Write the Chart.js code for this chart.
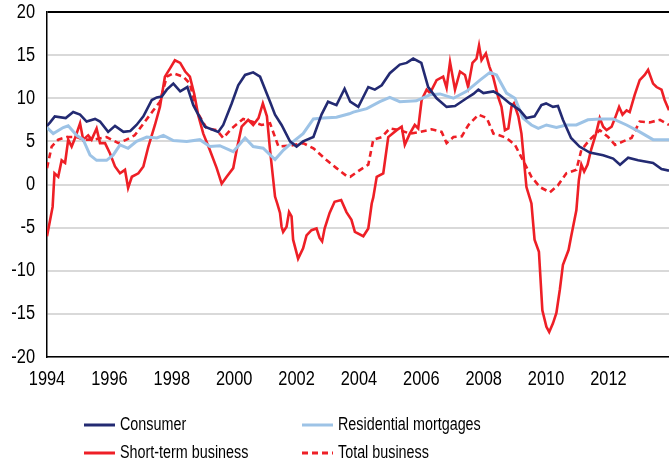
<!DOCTYPE html>
<html>
<head>
<meta charset="utf-8">
<script src="https://cdn.jsdelivr.net/npm/chart.js@4.4.1/dist/chart.umd.min.js"></script>
<style>
  html, body { margin: 0; padding: 0; background: #fff; }
  #wrap { width: 669px; height: 471px; position: relative; }
</style>
</head>
<body>
<div id="wrap"><canvas id="growth"></canvas></div>
<script>
// values (decimal year, % change)
const consumerYears = [1994.00, 1994.10, 1994.25, 1994.60, 1994.84, 1995.06, 1995.27, 1995.54, 1995.70, 1995.96, 1996.18, 1996.45, 1996.67, 1996.87, 1997.09, 1997.36, 1997.52, 1997.68, 1997.84, 1998.05, 1998.27, 1998.50, 1998.69, 1998.88, 1999.06, 1999.49, 1999.65, 1999.92, 2000.13, 2000.35, 2000.61, 2000.83, 2001.15, 2001.31, 2001.52, 2001.79, 2002.00, 2002.21, 2002.54, 2002.80, 2003.01, 2003.28, 2003.54, 2003.72, 2003.98, 2004.30, 2004.51, 2004.73, 2004.99, 2005.31, 2005.53, 2005.74, 2006.00, 2006.22, 2006.49, 2006.81, 2007.08, 2007.45, 2007.67, 2007.83, 2007.99, 2008.31, 2008.50, 2008.84, 2009.16, 2009.37, 2009.63, 2009.85, 2010.00, 2010.22, 2010.38, 2010.54, 2010.80, 2011.07, 2011.40, 2011.83, 2012.15, 2012.37, 2012.63, 2012.95, 2013.43, 2013.70, 2013.94];
const consumerValues = [6.8, 7.2, 7.9, 7.7, 8.4, 8.1, 7.3, 7.6, 7.3, 6.1, 6.8, 6.1, 6.2, 6.9, 7.9, 9.8, 10.1, 10.2, 11.0, 11.7, 10.8, 11.3, 9.2, 7.9, 6.7, 6.1, 6.9, 9.4, 11.5, 12.7, 13.0, 12.5, 9.6, 8.1, 6.9, 5.0, 4.4, 5.0, 5.5, 8.1, 9.6, 9.2, 11.1, 9.6, 9.0, 11.3, 11.0, 11.5, 12.9, 13.9, 14.1, 14.6, 14.1, 11.3, 10.0, 9.0, 9.1, 10.0, 10.5, 11.0, 10.6, 10.8, 10.4, 9.4, 8.6, 7.7, 7.9, 9.2, 9.4, 9.0, 9.1, 7.5, 5.4, 4.4, 3.7, 3.4, 3.0, 2.3, 3.1, 2.8, 2.5, 1.8, 1.6];

const mortgageYears = [1994.00, 1994.20, 1994.52, 1994.68, 1994.95, 1995.16, 1995.38, 1995.59, 1995.91, 1996.12, 1996.34, 1996.60, 1996.87, 1997.20, 1997.52, 1997.73, 1998.05, 1998.48, 1998.90, 1999.22, 1999.54, 1999.97, 2000.35, 2000.61, 2000.93, 2001.31, 2001.58, 2001.90, 2002.21, 2002.54, 2002.86, 2003.28, 2003.69, 2003.82, 2004.25, 2004.67, 2004.99, 2005.31, 2005.84, 2006.28, 2006.60, 2007.03, 2007.45, 2007.88, 2008.20, 2008.41, 2008.73, 2009.00, 2009.26, 2009.53, 2009.75, 2010.01, 2010.33, 2010.65, 2010.97, 2011.34, 2011.72, 2012.15, 2012.58, 2013.00, 2013.43, 2013.94];
const mortgageValues = [6.6, 5.9, 6.6, 6.8, 5.7, 5.2, 3.4, 2.8, 2.8, 3.4, 4.6, 4.2, 5.0, 5.5, 5.4, 5.7, 5.1, 5.0, 5.2, 4.4, 4.5, 3.8, 5.4, 4.4, 4.2, 2.9, 4.0, 5.0, 5.9, 7.6, 7.7, 7.8, 8.2, 8.4, 8.8, 9.6, 10.1, 9.6, 9.7, 10.4, 10.5, 10.0, 10.8, 12.1, 13.0, 12.7, 10.6, 10.0, 7.7, 6.9, 6.5, 6.9, 6.6, 6.9, 6.9, 7.5, 7.6, 7.6, 6.9, 6.1, 5.2, 5.2];

const shortTermYears = [1994.00, 1994.18, 1994.24, 1994.36, 1994.47, 1994.58, 1994.68, 1994.79, 1994.90, 1995.06, 1995.16, 1995.32, 1995.43, 1995.59, 1995.70, 1995.86, 1996.02, 1996.18, 1996.34, 1996.50, 1996.60, 1996.72, 1996.93, 1997.09, 1997.25, 1997.46, 1997.62, 1997.78, 1997.95, 1998.10, 1998.27, 1998.43, 1998.58, 1998.72, 1998.85, 1999.01, 1999.22, 1999.44, 1999.60, 1999.76, 1999.97, 2000.08, 2000.24, 2000.45, 2000.61, 2000.78, 2000.92, 2001.05, 2001.15, 2001.31, 2001.38, 2001.47, 2001.52, 2001.57, 2001.68, 2001.76, 2001.84, 2001.89, 2002.05, 2002.21, 2002.32, 2002.48, 2002.64, 2002.74, 2002.82, 2002.90, 2003.06, 2003.22, 2003.43, 2003.60, 2003.76, 2003.87, 2004.14, 2004.30, 2004.41, 2004.46, 2004.57, 2004.78, 2004.94, 2005.21, 2005.37, 2005.47, 2005.63, 2005.79, 2005.90, 2006.01, 2006.17, 2006.28, 2006.49, 2006.70, 2006.81, 2006.92, 2007.08, 2007.24, 2007.40, 2007.50, 2007.64, 2007.77, 2007.85, 2007.93, 2008.07, 2008.18, 2008.30, 2008.46, 2008.57, 2008.68, 2008.79, 2008.89, 2008.97, 2009.11, 2009.21, 2009.37, 2009.53, 2009.63, 2009.77, 2009.88, 2010.01, 2010.10, 2010.22, 2010.33, 2010.44, 2010.54, 2010.72, 2010.80, 2010.97, 2011.05, 2011.13, 2011.22, 2011.33, 2011.44, 2011.60, 2011.72, 2011.83, 2011.94, 2012.10, 2012.21, 2012.34, 2012.45, 2012.58, 2012.68, 2012.84, 2013.00, 2013.16, 2013.27, 2013.43, 2013.54, 2013.70, 2013.80, 2013.94];
const shortTermValues = [-6.0, -2.6, 1.3, 0.9, 2.8, 2.5, 5.2, 4.4, 5.4, 7.1, 5.2, 5.7, 5.2, 6.5, 4.8, 4.8, 3.6, 2.1, 1.3, 1.7, -0.4, 0.9, 1.3, 2.1, 4.4, 6.9, 9.0, 12.5, 13.5, 14.4, 14.1, 13.1, 12.5, 10.5, 8.0, 5.9, 4.0, 1.9, 0.1, 0.9, 1.9, 4.0, 6.7, 7.5, 6.9, 7.7, 9.4, 7.9, 4.0, -1.4, -2.2, -3.3, -4.9, -5.5, -4.9, -3.2, -3.7, -6.4, -8.6, -7.4, -5.9, -5.3, -5.1, -6.2, -6.6, -5.1, -3.3, -2.0, -1.8, -3.2, -4.1, -5.5, -6.0, -5.1, -2.2, -1.5, 0.9, 1.3, 5.5, 6.3, 6.7, 4.6, 5.9, 6.9, 6.5, 9.8, 11.0, 10.6, 12.1, 12.5, 11.2, 14.2, 11.0, 13.1, 12.7, 11.3, 14.1, 14.6, 16.1, 14.4, 15.2, 13.7, 12.5, 10.2, 9.0, 6.3, 6.5, 9.0, 9.4, 7.9, 5.9, -0.3, -2.2, -6.4, -7.8, -14.6, -16.5, -17.1, -16.1, -14.9, -12.2, -9.3, -7.6, -6.1, -3.0, 0.5, 2.3, 1.5, 2.3, 4.0, 5.9, 7.7, 6.7, 6.3, 6.7, 7.7, 9.0, 8.1, 8.6, 8.4, 10.4, 12.1, 12.7, 13.3, 11.7, 11.3, 11.0, 9.8, 8.6];

const totalYears = [1994.00, 1994.15, 1994.36, 1994.63, 1994.95, 1995.16, 1995.48, 1995.91, 1996.29, 1996.55, 1996.81, 1997.14, 1997.41, 1997.62, 1997.84, 1998.05, 1998.37, 1998.58, 1998.80, 1999.12, 1999.44, 1999.65, 1999.92, 2000.29, 2000.56, 2000.88, 2001.15, 2001.42, 2001.79, 2002.21, 2002.54, 2002.97, 2003.28, 2003.60, 2003.72, 2004.04, 2004.30, 2004.46, 2004.73, 2004.99, 2005.31, 2005.64, 2005.96, 2006.33, 2006.65, 2006.81, 2007.03, 2007.30, 2007.51, 2007.83, 2008.10, 2008.31, 2008.50, 2008.73, 2009.00, 2009.26, 2009.53, 2009.80, 2010.12, 2010.38, 2010.65, 2010.97, 2011.13, 2011.40, 2011.72, 2011.99, 2012.21, 2012.47, 2012.74, 2013.00, 2013.32, 2013.65, 2013.94];
const totalValues = [1.9, 4.4, 5.2, 5.5, 5.5, 5.2, 5.2, 5.5, 4.8, 5.2, 5.7, 7.3, 8.6, 9.6, 12.5, 12.9, 12.5, 11.7, 8.5, 6.5, 6.3, 5.4, 6.5, 7.6, 7.3, 6.9, 7.1, 4.4, 4.5, 4.8, 4.2, 2.8, 1.9, 1.0, 0.9, 1.7, 2.3, 5.2, 5.5, 6.5, 6.3, 5.9, 6.1, 6.4, 6.1, 4.8, 5.5, 5.6, 6.9, 8.1, 7.7, 5.9, 5.7, 5.4, 4.6, 2.8, 0.9, -0.3, -0.9, -0.1, 1.3, 1.7, 4.0, 5.2, 6.3, 5.5, 4.6, 5.0, 5.4, 7.3, 7.2, 7.5, 6.9];

const yTicks = [-20, -15, -10, -5, 0, 5, 10, 15, 20];

const NAVY = '#232a72';
const LIGHT_BLUE = '#9dc3e6';
const RED = '#ee1f26';
const FONT = "'Liberation Sans', Arial, sans-serif";
const NARROW = 0.82; // the original uses a narrow face, so squeeze the glyphs

const toPoints = (xs, ys) => xs.map((x, i) => ({ x: x, y: ys[i] }));

function narrowText(ctx, text, x, y) {
  ctx.save();
  ctx.translate(x, y);
  ctx.scale(NARROW, 1);
  ctx.fillText(text, 0, 0);
  ctx.restore();
}

// tick labels drawn narrow, positions come from the chart scales
const narrowTicks = {
  id: 'narrowTicks',
  afterDraw(chart) {
    const ctx = chart.ctx;
    const xs = chart.scales.x;
    const ys = chart.scales.y;
    ctx.save();
    ctx.fillStyle = '#000';
    ctx.font = '20px ' + FONT;
    ctx.textBaseline = 'middle';
    ctx.textAlign = 'right';
    ys.ticks.forEach(t => narrowText(ctx, String(t.value), ys.right - 12, ys.getPixelForValue(t.value)));
    ctx.textAlign = 'center';
    xs.ticks.forEach(t => narrowText(ctx, String(t.value), xs.getPixelForValue(t.value), xs.top + 22));
    ctx.restore();
  }
};

// legend in two fixed columns under the plot
const legendGrid = {
  id: 'legendGrid',
  afterDraw(chart) {
    const ctx = chart.ctx;
    const cols = [84, 302];
    const rows = [425, 453];
    ctx.save();
    ctx.font = '17.5px ' + FONT;
    ctx.textBaseline = 'middle';
    ctx.textAlign = 'left';
    chart.data.datasets.forEach((ds, i) => {
      const x = cols[i % 2];
      const y = rows[Math.floor(i / 2)];
      ctx.strokeStyle = ds.borderColor;
      ctx.lineWidth = 3;
      ctx.setLineDash(ds.borderDash || []);
      ctx.beginPath();
      ctx.moveTo(x, y);
      ctx.lineTo(x + 31, y);
      ctx.stroke();
      ctx.setLineDash([]);
      ctx.fillStyle = '#000';
      narrowText(ctx, ds.label, x + 36, y);
    });
    ctx.restore();
  }
};

new Chart(document.getElementById('growth'), {
  type: 'line',
  data: {
    datasets: [
      { label: 'Consumer', data: toPoints(consumerYears, consumerValues), borderColor: NAVY, borderWidth: 2.6 },
      { label: 'Residential mortgages', data: toPoints(mortgageYears, mortgageValues), borderColor: LIGHT_BLUE, borderWidth: 3 },
      { label: 'Short-term business', data: toPoints(shortTermYears, shortTermValues), borderColor: RED, borderWidth: 2.6 },
      { label: 'Total business', data: toPoints(totalYears, totalValues), borderColor: RED, borderWidth: 2.6, borderDash: [6, 4] }
    ]
  },
  options: {
    responsive: true,
    maintainAspectRatio: false,
    animation: false,
    elements: { point: { radius: 0 }, line: { tension: 0, fill: false } },
    layout: { padding: { top: 12, right: 0, bottom: 0, left: 0 } },
    plugins: { legend: { display: false }, tooltip: { enabled: false } },
    scales: {
      x: {
        type: 'linear',
        min: 1994,
        max: 2013.94,
        grid: { display: false, drawTicks: false },
        border: { color: '#000', width: 1.5 },
        ticks: { stepSize: 2, includeBounds: false, display: false },
        afterFit: (scale) => { scale.height = 114; }
      },
      y: {
        min: -20,
        max: 20,
        afterBuildTicks: (scale) => { scale.ticks = yTicks.map(v => ({ value: v })); },
        grid: {
          drawTicks: false,
          lineWidth: 2,
          color: (c) => (c.tick && c.tick.value === 20 ? '#000' : '#d9d9d9')
        },
        border: { color: '#000', width: 1.5 },
        ticks: { display: false },
        afterFit: (scale) => { scale.width = 47; }
      }
    }
  },
  plugins: [narrowTicks, legendGrid]
});
</script>
</body>
</html>
